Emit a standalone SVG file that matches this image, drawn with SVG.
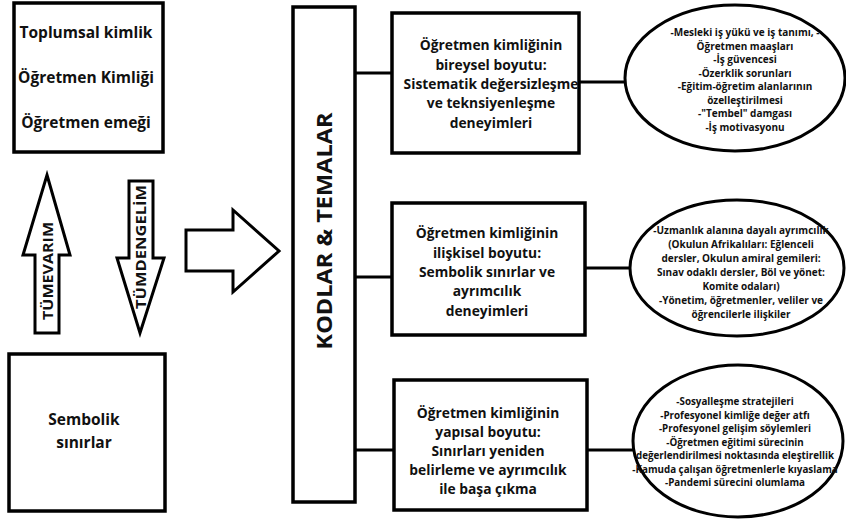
<svg xmlns="http://www.w3.org/2000/svg" width="846" height="521" viewBox="0 0 846 521">
<style>
.box{fill:#fff;stroke:#000;stroke-width:3.5}
.ell{fill:#fff;stroke:#000;stroke-width:3}
.arr{fill:#fff;stroke:#000;stroke-width:3;stroke-linejoin:miter}
.t{font-family:"Open Sans","DejaVu Sans",sans-serif;font-weight:bold;fill:#111;text-anchor:middle}
.big{font-size:15.5px}
.mid{font-size:13.8px}
.sm{font-size:10px}
.xs{font-size:9.8px}
.con{stroke:#000;stroke-width:3;fill:none}
</style>
<rect width="846" height="521" fill="#fff"/>
<g id="connectors">
<line class="con" x1="355" y1="73" x2="393" y2="73"/>
<line class="con" x1="355" y1="277" x2="393" y2="277"/>
<line class="con" x1="355" y1="450" x2="395" y2="450"/>
<line class="con" x1="579" y1="82" x2="626" y2="82"/>
<line class="con" x1="585" y1="268" x2="631" y2="268"/>
<line class="con" x1="587" y1="450" x2="634" y2="450"/>
</g>
<g id="top-left">
<rect class="box" x="14" y="3" width="149" height="149"/>
<text class="t big" x="86" y="38">Toplumsal kimlik</text>
<text class="t big" x="86" y="83">Öğretmen Kimliği</text>
<text class="t big" x="86" y="128">Öğretmen emeği</text>
</g>
<g id="tumevarim">
<polygon class="arr" points="47,175 70,255 59,255 59,333 35,333 35,255 23,255"/>
<text class="t" font-size="13.5" textLength="98" lengthAdjust="spacingAndGlyphs" transform="translate(53,271) rotate(-90)">TÜMEVARIM</text>
</g>
<g id="tumdengelim">
<polygon class="arr" points="129,181 153,181 153,258 164,258 140,333 117,258 129,258"/>
<text class="t" font-size="13.5" textLength="124" lengthAdjust="spacingAndGlyphs" transform="translate(146,247) rotate(-90)">TÜMDENGELİM</text>
</g>
<g id="right-arrow">
<polygon class="arr" points="186,230 233,230 233,210 279,251 233,292 233,271 186,271"/>
</g>
<g id="bottom-left">
<rect class="box" x="9" y="354" width="156" height="157"/>
<text class="t big" x="84" y="425">Sembolik</text>
<text class="t big" x="84" y="448">sınırlar</text>
</g>
<g id="kodlar">
<rect class="box" x="293" y="7" width="62" height="495"/>
<text class="t" font-size="22" textLength="237" lengthAdjust="spacingAndGlyphs" transform="translate(332,231) rotate(-90)">KODLAR &amp; TEMALAR</text>
</g>
<g id="box1">
<rect class="box" x="392" y="13" width="187" height="140"/>
<text class="t mid" x="491" y="50">Öğretmen kimliğinin</text>
<text class="t mid" x="491" y="70">bireysel boyutu:</text>
<text class="t mid" x="491" y="89">Sistematik değersizleşme</text>
<text class="t mid" x="491" y="108">ve teknsiyenleşme</text>
<text class="t mid" x="491" y="128">deneyimleri</text>
</g>
<g id="box2">
<rect class="box" x="392" y="203" width="193" height="132"/>
<text class="t mid" x="487" y="238">Öğretmen kimliğinin</text>
<text class="t mid" x="487" y="258">ilişkisel boyutu:</text>
<text class="t mid" x="487" y="277">Sembolik sınırlar ve</text>
<text class="t mid" x="487" y="296">ayrımcılık</text>
<text class="t mid" x="487" y="316">deneyimleri</text>
</g>
<g id="box3">
<rect class="box" x="394" y="380" width="193" height="130"/>
<text class="t mid" x="488" y="418">Öğretmen kimliğinin</text>
<text class="t mid" x="488" y="437">yapısal boyutu:</text>
<text class="t mid" x="488" y="456">Sınırları yeniden</text>
<text class="t mid" x="488" y="475">belirleme ve ayrımcılık</text>
<text class="t mid" x="488" y="494">ile başa çıkma</text>
</g>
<g id="ellipse1">
<ellipse class="ell" cx="735" cy="78" rx="110" ry="73"/>
<text class="t sm" x="745" y="36">-Mesleki iş yükü ve iş tanımı, -</text>
<text class="t sm" x="745" y="49.5">Öğretmen maaşları</text>
<text class="t sm" x="745" y="63">-İş güvencesi</text>
<text class="t sm" x="745" y="76.5">-Özerklik sorunları</text>
<text class="t sm" x="745" y="90">-Eğitim-öğretim alanlarının</text>
<text class="t sm" x="745" y="103.5">özelleştirilmesi</text>
<text class="t sm" x="745" y="117">-"Tembel" damgası</text>
<text class="t sm" x="745" y="130.5">-İş motivasyonu</text>
</g>
<g id="ellipse2">
<ellipse class="ell" cx="737" cy="268" rx="107" ry="68"/>
<text class="t sm" x="741" y="234">-Uzmanlık alanına dayalı ayrımcılık</text>
<text class="t sm" x="741" y="248">(Okulun Afrikalıları: Eğlenceli</text>
<text class="t sm" x="741" y="262">dersler, Okulun amiral gemileri:</text>
<text class="t sm" x="741" y="276">Sınav odaklı dersler, Böl ve yönet:</text>
<text class="t sm" x="741" y="290">Komite odaları)</text>
<text class="t sm" x="741" y="304">-Yönetim, öğretmenler, veliler ve</text>
<text class="t sm" x="741" y="318">öğrencilerle ilişkiler</text>
</g>
<g id="ellipse3">
<ellipse class="ell" cx="738" cy="441" rx="105" ry="76"/>
<text class="t xs" x="735" y="405">-Sosyalleşme stratejileri</text>
<text class="t xs" x="735" y="418.5">-Profesyonel kimliğe değer atfı</text>
<text class="t xs" x="735" y="432">-Profesyonel gelişim söylemleri</text>
<text class="t xs" x="735" y="445.5">-Öğretmen eğitimi sürecinin</text>
<text class="t xs" x="735" y="459">değerlendirilmesi noktasında eleştirellik</text>
<text class="t xs" x="735" y="472.5">-Kamuda çalışan öğretmenlerle kıyaslama</text>
<text class="t xs" x="735" y="486">-Pandemi sürecini olumlama</text>
</g>
</svg>
